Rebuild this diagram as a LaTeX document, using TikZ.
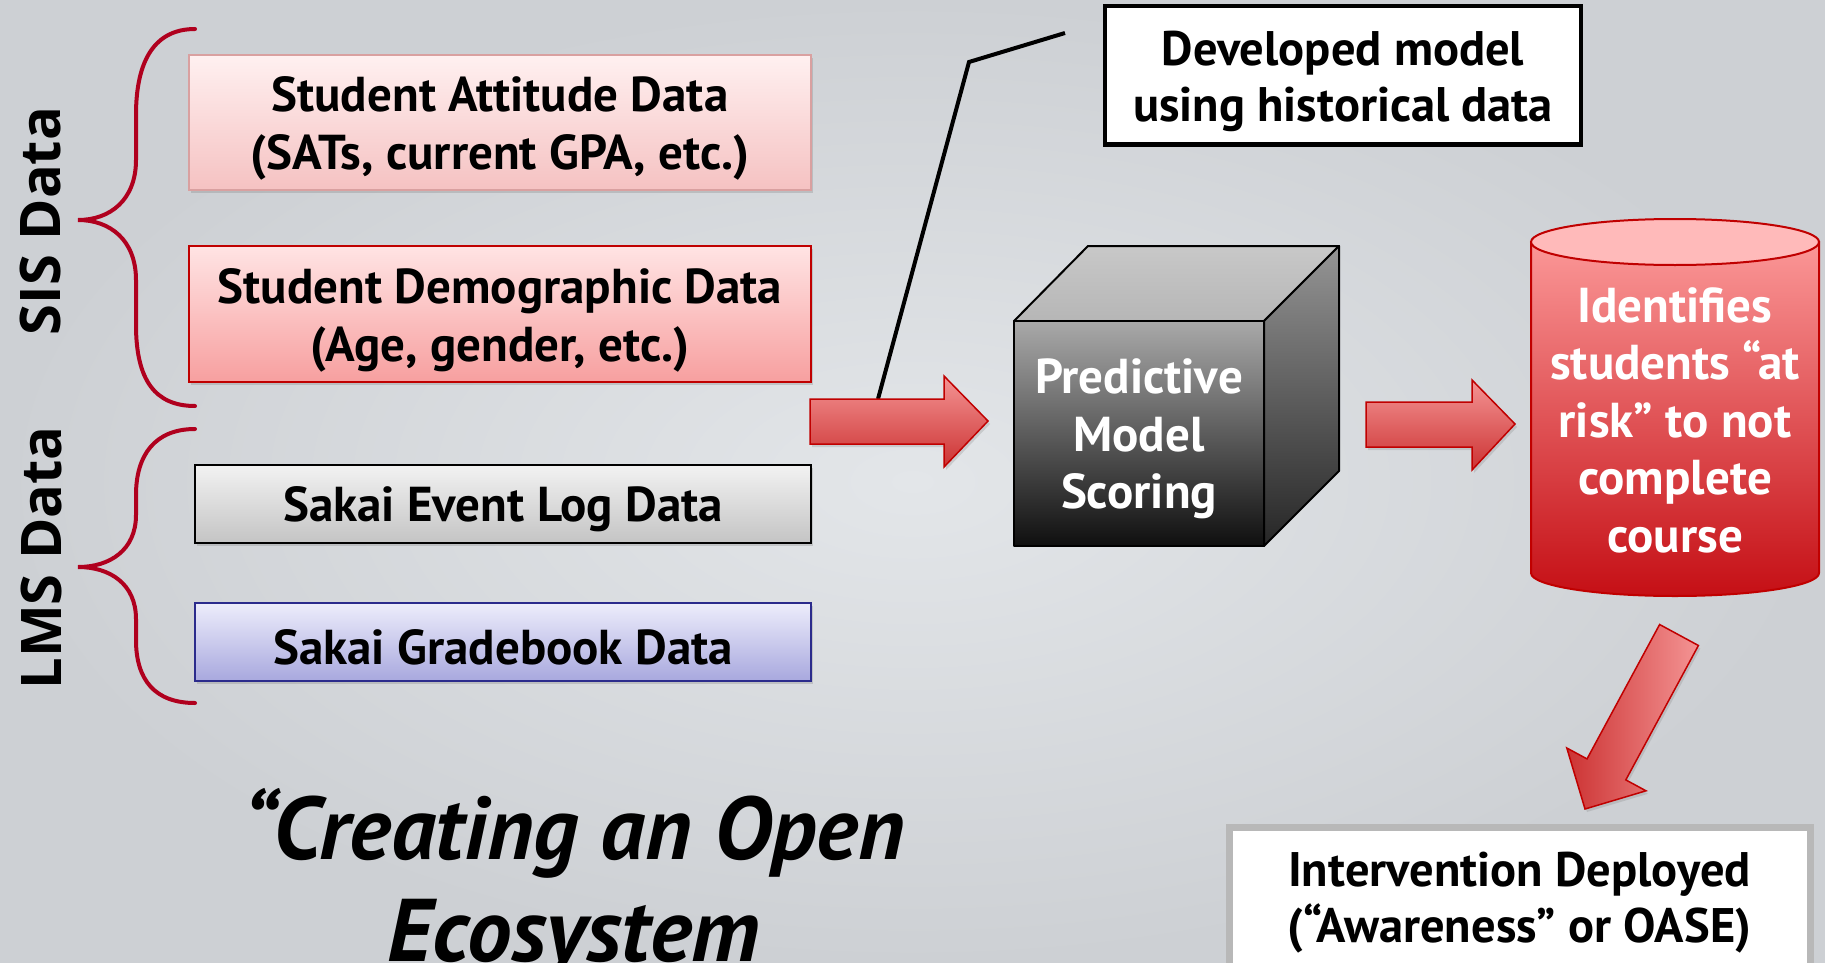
\documentclass[tikz,border=0pt]{standalone}
\usepackage{fontspec}
\setmainfont{PT Sans}
\newfontfamily\osfont{Open Sans}
\usetikzlibrary{shadows}
\newcommand{\upstrut}[1]{\rule{0pt}{#1}}
\definecolor{bgin}{HTML}{E3E6E9}
\definecolor{bgout}{HTML}{CDD0D4}
\definecolor{bracecol}{HTML}{B0001E}
\definecolor{bonetop}{HTML}{FFF0F0}
\definecolor{bonebot}{HTML}{F5C2C2}
\definecolor{boneline}{HTML}{D9A0A0}
\definecolor{btwotop}{HTML}{FFE4E4}
\definecolor{btwobot}{HTML}{F79F9F}
\definecolor{btwoline}{HTML}{C00000}
\definecolor{bthreetop}{HTML}{F2F2F2}
\definecolor{bthreebot}{HTML}{C4C4C4}
\definecolor{bfourtop}{HTML}{EDEDFB}
\definecolor{bfourbot}{HTML}{A8A8DE}
\definecolor{bfourline}{HTML}{2B2B8C}
\definecolor{arrtop}{HTML}{F49494}
\definecolor{arrbot}{HTML}{CC3333}
\definecolor{arrline}{HTML}{C00000}
\definecolor{cfronttop}{HTML}{A9A9A9}
\definecolor{cfrontbot}{HTML}{0F0F0F}
\definecolor{ctoptop}{HTML}{C8C8C8}
\definecolor{ctopbot}{HTML}{B6B6B6}
\definecolor{crighttop}{HTML}{959595}
\definecolor{crightbot}{HTML}{262626}
\definecolor{cyltopfill}{HTML}{FFBABA}
\definecolor{cylbodytop}{HTML}{FB9797}
\definecolor{cylbodybot}{HTML}{C50F15}
\definecolor{cylline}{HTML}{C00000}
\definecolor{intline}{HTML}{B8B8B8}
\begin{document}
\begin{tikzpicture}[x=1pt,y=-1pt,
  brace/.style={draw=bracecol, line width=4pt, line cap=round},
  sidelabel/.style={rotate=90, font=\osfont\bfseries\fontsize{56}{60}\selectfont},
  databox/.style={inner sep=0pt, align=center, font=\bfseries\fontsize{49}{58}\selectfont,
     drop shadow={opacity=0.3, shadow xshift=2pt, shadow yshift=-3pt}},
  blockarrow/.style={top color=arrtop, bottom color=arrbot, draw=arrline, line width=1.5pt},
  whitetext/.style={text=white, align=center, font=\bfseries\fontsize{49}{57.5}\selectfont},
  notebox/.style={fill=white, inner sep=0pt, align=center, font=\bfseries\fontsize{48.5}{56}\selectfont},
  cubeedge/.style={draw=black, line width=2pt, line join=round}]
\useasboundingbox (0,0) rectangle (1825,963);
\clip (0,0) rectangle (1825,963);
\shade[inner color=bgin, outer color=bgout] (0,0) rectangle (1825,963);

% braces
\draw[brace] (195,29) .. controls (155,29) and (136,60) .. (136,115) -- (136,160)
  .. controls (136,200) and (110,220) .. (78,220)
  .. controls (110,220) and (136,240) .. (136,280) -- (136,325)
  .. controls (136,380) and (155,406) .. (195,406);
\draw[brace] (195,429) .. controls (155,429) and (136,455) .. (136,495) -- (136,515)
  .. controls (136,550) and (110,567) .. (78,567)
  .. controls (110,567) and (136,584) .. (136,619) -- (136,640)
  .. controls (136,680) and (155,703) .. (195,703);
\node[sidelabel] (sis) at (40,221) {SIS Data};
\node[sidelabel] (lms) at (41,558) {LMS Data};

% data boxes
\node[databox, top color=bonetop, bottom color=bonebot, draw=boneline, line width=1.5pt,
  minimum width=622pt, minimum height=135pt] (att) at (500,122.5)
  {\upstrut{47pt}Student Attitude Data\\(SATs, current GPA, etc.)};
\node[databox, top color=btwotop, bottom color=btwobot, draw=btwoline, line width=2pt,
  minimum width=622pt, minimum height=136pt] (demo) at (500,314)
  {\upstrut{47pt}Student Demographic Data\\(Age, gender, etc.)};
\node[databox, top color=bthreetop, bottom color=bthreebot, draw=black, line width=2pt,
  minimum width=616pt, minimum height=78pt] (event) at (503,504) {\upstrut{45pt}Sakai Event Log Data};
\node[databox, top color=bfourtop, bottom color=bfourbot, draw=bfourline, line width=2pt,
  minimum width=616pt, minimum height=78pt] (grade) at (503,642) {\upstrut{45pt}Sakai Gradebook Data};

% callout line
\coordinate (cA) at (878,399);
\coordinate (cB) at (969,62);
\coordinate (cC) at (1065,33);
\draw[line width=4pt, line join=miter] (cA) -- (cB) -- (cC);

% arrow 1
\path[blockarrow, drop shadow={opacity=0.25, shadow xshift=2pt, shadow yshift=-3pt}]
  (810,399) -- (944,399) -- (944,376) -- (988,421) -- (944,467) -- (944,444) -- (810,444) -- cycle;

% cube
\path[cubeedge, top color=ctoptop, bottom color=ctopbot] (1014,321) -- (1088,246) -- (1339,246) -- (1264,321) -- cycle;
\path[cubeedge, top color=crighttop, bottom color=crightbot] (1264,321) -- (1339,246) -- (1339,471) -- (1264,546) -- cycle;
\path[cubeedge, top color=cfronttop, bottom color=cfrontbot] (1014,321) rectangle (1264,546);
\node[whitetext] (cube) at (1139,439) {Predictive\\Model\\Scoring};

% developed model box
\node[notebox, draw=black, line width=4pt, minimum width=476pt, minimum height=138pt]
  (dev) at (1343,75.5) {\upstrut{47pt}Developed model\\using historical data};

% arrow 2
\path[blockarrow, drop shadow={opacity=0.25, shadow xshift=2pt, shadow yshift=-3pt}]
  (1366,402) -- (1472,402) -- (1472,380) -- (1515,424) -- (1472,470) -- (1472,447) -- (1366,447) -- cycle;

% cylinder
\path[top color=cylbodytop, bottom color=cylbodybot, draw=cylline, line width=2pt]
  (1531,242) -- (1531,573) arc[start angle=180, end angle=0, x radius=144, y radius=23]
  -- (1819,242) -- cycle;
\draw[cylline, line width=2pt, fill=cyltopfill] (1675,242) ellipse[x radius=144, y radius=23];
\node[whitetext] (risk) at (1675,420)
  {Identifies\\students “at\\risk” to not\\complete\\course};

% arrow 3
\path[left color=arrbot, right color=arrtop, draw=arrline, line width=1.5pt,
  drop shadow={opacity=0.25, shadow xshift=2pt, shadow yshift=-3pt}]
  (1659.6,624.5) -- (1698.4,645.5) -- (1625.8,779.9) -- (1646.0,790.8) -- (1585,809)
  -- (1566.8,748.0) -- (1587.0,758.9) -- cycle;

% intervention box
\node[notebox, draw=intline, line width=7pt, minimum width=581pt, minimum height=140pt]
  (int) at (1519.5,897) {\upstrut{45pt}Intervention Deployed\\(“Awareness” or OASE)};

% title
\node[align=center, font=\bfseries\itshape\fontsize{89}{102}\selectfont, anchor=base]
  (title) at (574,961) {“Creating an Open\\Ecosystem};
\end{tikzpicture}
\end{document}
